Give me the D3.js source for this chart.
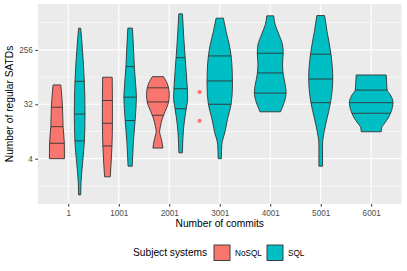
<!DOCTYPE html>
<html>
<head>
<meta charset="utf-8">
<script src="https://cdn.jsdelivr.net/npm/d3@7"></script>
<style>
  body { margin: 0; background: #fff; }
  svg text { font-family: "Liberation Sans", Arial, Helvetica, sans-serif; }
</style>
</head>
<body>
<svg id="chart" width="407" height="271"></svg>
<script>
// Axis breaks
const commitTicks = [1, 1001, 2001, 3001, 4001, 5001, 6001];
const yTicks = [4, 32, 256];

// Legend
const systems = ['NoSQL', 'SQL'];
const systemColors = ['#F8766D', '#00BFC4'];

// One entry per violin: system, commit bin, outline profile and quartiles.
// Profile rows are [number of SATDs, relative density], from top to bottom.
const violinSystem = ['NoSQL', 'SQL', 'NoSQL', 'SQL', 'NoSQL', 'SQL', 'SQL', 'SQL', 'SQL', 'SQL'];
const violinCommits = [1, 1, 1001, 1001, 2001, 2001, 3001, 4001, 5001, 6001];
const violinProfiles = [
  [[67, 0.34], [29, 0.49], [13.6, 0.54], [7.2, 0.65], [5, 0.66], [4, 0.66]],
  [[587, 0.09], [375, 0.18], [175, 0.31], [78, 0.41], [22, 0.47], [7.9, 0.42], [3.4, 0.26], [1.6, 0.12], [1, 0.09]],
  [[90, 0.42], [38, 0.44], [15.7, 0.44], [6.5, 0.40], [3.8, 0.34], [2, 0.25]],
  [[588, 0.20], [309, 0.28], [135, 0.37], [67, 0.49], [42, 0.55], [17.6, 0.44], [7.3, 0.28], [3, 0.18]],
  [[92, 0.49], [63, 0.91], [46, 1.0], [35, 0.94], [24, 0.62], [18.8, 0.40], [13.6, 0.22], [11.2, 0.15], [8.7, 0.29], [6.8, 0.40], [6, 0.44]],
  [[1014, 0.16], [400, 0.28], [190, 0.40], [112, 0.49], [58, 0.59], [40, 0.62], [27, 0.49], [14.5, 0.29], [8.7, 0.20], [5, 0.15]],
  [[860, 0.16], [515, 0.28], [310, 0.42], [203, 0.50], [110, 0.55], [67, 0.56], [32, 0.50], [18.8, 0.35], [11.2, 0.23], [6.8, 0.09], [4, 0.07]],
  [[940, 0.15], [666, 0.22], [454, 0.39], [310, 0.54], [225, 0.57], [149, 0.54], [102, 0.57], [67, 0.66], [51, 0.70], [35, 0.62], [29, 0.54], [24, 0.45]],
  [[950, 0.17], [515, 0.28], [217, 0.45], [87, 0.53], [34, 0.43], [18.8, 0.28], [11.2, 0.15], [6.8, 0.08], [3, 0.08]],
  [[98, 0.66], [72, 0.68], [55, 0.70], [46, 0.84], [34, 0.96], [28, 0.93], [22.7, 0.85], [19, 0.75], [15.5, 0.59], [13, 0.46], [11.2, 0.44]],
];
// 75th, 50th and 25th percentiles
const violinQuartiles = [
  [28.6, 13.6, 7.2],
  [77, 22, 7.9],
  [37, 15.5, 6.5],
  [135, 42, 17.2],
  [60, 35, 21],
  [190, 58, 27],
  [203, 78, 32],
  [225, 106, 49],
  [217, 84, 34],
  [55, 34, 22.7],
];

// Single NoSQL points
const pointCommits = [2601, 2601];
const pointCounts = [51, 17];

const svg = d3.select('#chart');
const panel = { left: 38, right: 401.5, top: 4, bottom: 204 };

const x = d3.scaleLinear().domain([-599, 6601]).range([panel.left, panel.right]);
const y = d3.scaleLog().base(2)
  .domain([Math.pow(2, -0.5), Math.pow(2, 10.53)])
  .range([panel.bottom, panel.top]);
const color = d3.scaleOrdinal().domain(systems).range(systemColors);

// minor breaks sit halfway (in log space) between the major ones
const ext = [yTicks[0] / 8, ...yTicks, yTicks[yTicks.length - 1] * 8];
const yMinor = d3.pairs(ext).map(([a, b]) => Math.sqrt(a * b));

// panel background
svg.append('rect')
  .attr('x', panel.left).attr('y', panel.top)
  .attr('width', panel.right - panel.left).attr('height', panel.bottom - panel.top)
  .attr('fill', '#EBEBEB');

const grid = svg.append('g').attr('stroke', '#fff');
grid.selectAll('line.minor').data(yMinor).enter().append('line')
  .attr('x1', panel.left).attr('x2', panel.right)
  .attr('y1', d => y(d)).attr('y2', d => y(d))
  .attr('stroke-width', 0.55);
grid.selectAll('line.majy').data(yTicks).enter().append('line')
  .attr('x1', panel.left).attr('x2', panel.right)
  .attr('y1', d => y(d)).attr('y2', d => y(d))
  .attr('stroke-width', 1.1);
grid.selectAll('line.majx').data(commitTicks).enter().append('line')
  .attr('y1', panel.top).attr('y2', panel.bottom)
  .attr('x1', d => x(d)).attr('x2', d => x(d))
  .attr('stroke-width', 1.1);

// violins, dodged when both systems share a bin
const binCount = d3.rollup(violinCommits, v => v.length, d => d);
const violins = violinSystem.map((s, i) => {
  const n = binCount.get(violinCommits[i]);
  const slot = 900 / n;               // 0.9 of the bin spacing, split between groups
  const order = n > 1 ? systems.indexOf(s) : 0;
  const center = violinCommits[i] - 450 + slot * (order + 0.5);
  return { system: s, center, half: slot / 2, profile: violinProfiles[i], quart: violinQuartiles[i] };
});

const vg = svg.append('g');
violins.forEach(v => {
  const area = d3.area()
    .curve(d3.curveMonotoneY)
    .y(d => y(d[0]))
    .x0(d => x(v.center - d[1] * v.half))
    .x1(d => x(v.center + d[1] * v.half));

  vg.append('path')
    .attr('d', area(v.profile))
    .attr('fill', color(v.system))
    .attr('stroke', '#333333')
    .attr('stroke-width', 0.9)
    .attr('stroke-linejoin', 'round');

  const widthAt = d3.scaleLinear()
    .domain(v.profile.map(p => Math.log2(p[0])))
    .range(v.profile.map(p => p[1]));

  vg.selectAll(null).data(v.quart).enter().append('line')
    .attr('x1', d => x(v.center - widthAt(Math.log2(d)) * v.half))
    .attr('x2', d => x(v.center + widthAt(Math.log2(d)) * v.half))
    .attr('y1', d => y(d)).attr('y2', d => y(d))
    .attr('stroke', '#333333')
    .attr('stroke-width', 0.9);
});

svg.append('g').selectAll('circle').data(pointCounts).enter().append('circle')
  .attr('cx', (d, i) => x(pointCommits[i]))
  .attr('cy', d => y(d))
  .attr('r', 2.1)
  .attr('fill', color('NoSQL'));

// axes
const xAxis = svg.append('g').attr('transform', `translate(0,${panel.bottom})`)
  .call(d3.axisBottom(x).tickValues(commitTicks).tickSize(2.7).tickPadding(3.5).tickFormat(d3.format('d')));
const yAxis = svg.append('g').attr('transform', `translate(${panel.left},0)`)
  .call(d3.axisLeft(y).tickValues(yTicks).tickSize(2.7).tickPadding(2.5).tickFormat(d3.format('d')));
[xAxis, yAxis].forEach(a => {
  a.select('.domain').remove();
  a.selectAll('line').attr('stroke', '#333333').attr('stroke-width', 1);
  a.selectAll('text').attr('fill', '#4D4D4D').style('font-size', '8.2px');
});

svg.append('text')
  .attr('x', (panel.left + panel.right) / 2).attr('y', 227)
  .attr('text-anchor', 'middle')
  .style('font-size', '10.2px')
  .text('Number of commits');

svg.append('text')
  .attr('transform', `translate(12.5,${(panel.top + panel.bottom) / 2}) rotate(-90)`)
  .attr('text-anchor', 'middle')
  .style('font-size', '10.2px')
  .text('Number of regular SATDs');

// legend
const legend = svg.append('g');
legend.append('text')
  .attr('x', 133).attr('y', 256)
  .style('font-size', '10.2px')
  .text('Subject systems');
const keyX = [214, 267];
systems.forEach((s, i) => {
  legend.append('rect')
    .attr('x', keyX[i]).attr('y', 245)
    .attr('width', 16).attr('height', 15.5)
    .attr('fill', color(s))
    .attr('stroke', '#333333')
    .attr('stroke-width', 0.9);
  legend.append('text')
    .attr('x', keyX[i] + 21).attr('y', 255.5)
    .attr('fill', '#000')
    .style('font-size', '8.2px')
    .text(s);
});
</script>
</body>
</html>
